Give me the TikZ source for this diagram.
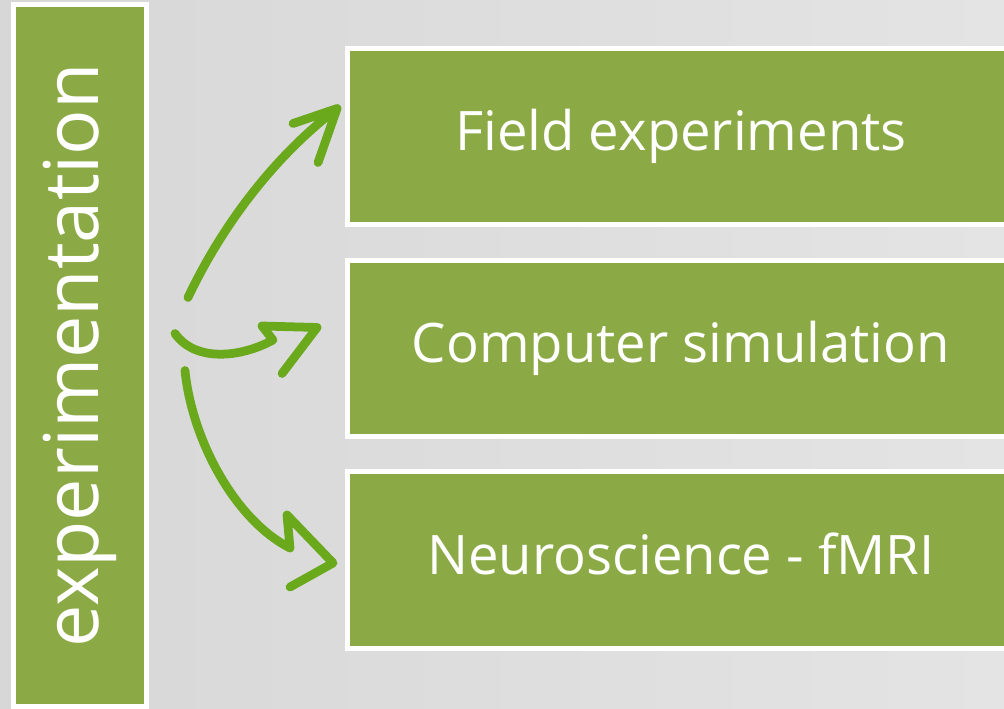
\documentclass[tikz,border=0pt]{standalone}
\usepackage{fontspec}
\setmainfont{Open Sans}
\definecolor{boxgreen}{RGB}{139,170,69}
\definecolor{pengreen}{RGB}{106,168,28}
\definecolor{bgleft}{RGB}{216,215,215}
\definecolor{bgright}{RGB}{228,228,228}

\begin{document}
\begin{tikzpicture}[x=0.02cm, y=-0.02cm,
    box/.style={draw=white, line width=0.1cm, fill=boxgreen, text=white, minimum width=13.34cm,
      minimum height=3.54cm, font=\fontsize{31}{37}\selectfont, text height=23.6pt, text depth=7.4pt},
    side/.style={draw=white, line width=0.1cm, fill=boxgreen, text=white, rotate=90,
      minimum width=14.04cm, minimum height=2.66cm, font=\fontsize{43}{52}\selectfont},
    pen/.style={draw=pengreen, line width=0.175cm, line cap=round, line join=round}]
  \shade[left color=bgleft, right color=bgright] (0,0) rectangle (1004,709);
  \useasboundingbox (0,0) rectangle (1004,709);
  \node[side] (exp) at (80,355.5) {experimentation};
  \node[box] (field) at (681,136.5) {Field experiments};
  \node[box] (sim) at (681,348.5) {Computer simulation};
  \node[box] (fmri) at (681,560) {Neuroscience - fMRI};
  \coordinate (s1) at ([shift={(39,-58)}]exp.south);
  \coordinate (s2) at ([shift={(26,-22)}]exp.south);
  \coordinate (s3) at ([shift={(36,15)}]exp.south);
  \coordinate (t1) at ([shift={(-8,-28)}]field.west);
  \coordinate (t2) at ([shift={(-28,-21)}]sim.west);
  \coordinate (t3) at ([shift={(-12,3)}]fmri.west);
  \draw[pen] (s1) .. controls (220,230) and (270,160) .. (t1) +(-44,15) -- (t1) -- +(-19,54);
  \draw[pen] (s2) .. controls (195,362) and (240,358) .. (273,340) -- (262,326) -- (t2) -- +(-35,46);
  \draw[pen] (s3) .. controls (192,440) and (235,520) .. (290,548) -- (287,515) -- (t3) -- +(-43,24);
\end{tikzpicture}
\end{document}
